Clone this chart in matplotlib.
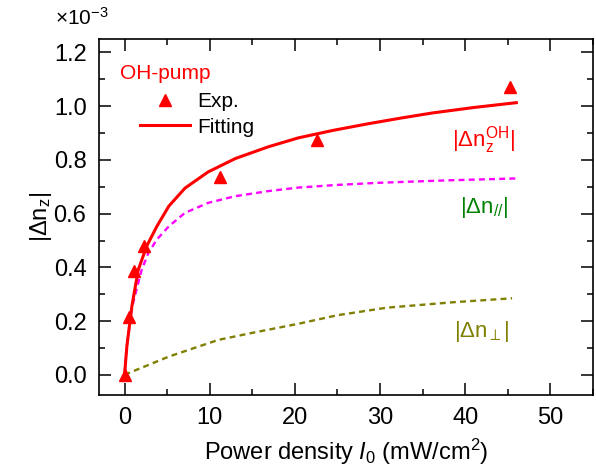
import matplotlib
matplotlib.use("Agg")
import matplotlib.pyplot as plt
from matplotlib.ticker import MultipleLocator, FormatStrFormatter

# data (y in units of 1e-3)
exp_x = [0, 0.55, 1.15, 2.3, 11.2, 22.6, 45.2]
exp_y = [0, 0.215, 0.385, 0.48, 0.735, 0.875, 1.07]

fit_x = [0, 0.27, 0.86, 1.6, 2.6, 3.8, 5.2, 7.1, 9.8, 13.0, 16.9, 20.4,
         24.5, 28.5, 32.5, 36.2, 41.0, 46.0]
fit_y = [0, 0.106, 0.255, 0.39, 0.479, 0.553, 0.628, 0.695, 0.755, 0.805, 0.849, 0.882,
         0.91, 0.934, 0.956, 0.975, 0.995, 1.013]

par_x = [0, 0.27, 0.86, 1.4, 2.0, 2.8, 3.8, 5.2, 7.1, 9.8, 13.0, 16.9, 20.4,
         25.0, 30.0, 38.0, 46.0]
par_y = [0, 0.106, 0.25, 0.317, 0.39, 0.454, 0.504, 0.553, 0.603, 0.64, 0.665, 0.684, 0.697,
         0.707, 0.715, 0.724, 0.731]

perp_x = [0, 0.5, 5.2, 11.0, 15.1, 20.4, 25.0, 30.8, 38.5, 45.5]
perp_y = [0, 0.007, 0.068, 0.13, 0.157, 0.19, 0.222, 0.25, 0.27, 0.285]

plt.rcParams['font.family'] = ['Liberation Sans', 'DejaVu Sans']
plt.rcParams['mathtext.fontset'] = 'custom'
plt.rcParams['mathtext.rm'] = 'Liberation Sans'
plt.rcParams['mathtext.it'] = 'Liberation Sans:italic'

fig = plt.figure(figsize=(5.96, 4.72), dpi=100)
ax = fig.add_axes([99/596, 1 - 395/472, (593 - 99)/596, (395 - 39)/472])

ax.plot(par_x, par_y, color='#ff00ff', linestyle=(0, (2.5, 1.8)), linewidth=1.7)
ax.plot(perp_x, perp_y, color='#808000', linestyle=(0, (2.5, 1.8)), linewidth=1.7)
l_fit, = ax.plot(fit_x, fit_y, color='red', linewidth=2.2, label='Fitting')
l_exp, = ax.plot(exp_x, exp_y, linestyle='none', marker='^', markersize=8,
                 color='red', label='Exp.')

ax.set_xlim(-3, 55)
ax.set_ylim(-0.075, 1.25)
ax.xaxis.set_major_locator(MultipleLocator(10))
ax.xaxis.set_minor_locator(MultipleLocator(5))
ax.yaxis.set_major_locator(MultipleLocator(0.2))
ax.yaxis.set_minor_locator(MultipleLocator(0.1))
ax.yaxis.set_major_formatter(FormatStrFormatter('%.1f'))
ax.tick_params(which='both', direction='in', top=True, right=True, width=1.1, labelsize=17)
ax.tick_params(which='major', length=8.5, pad=9)
ax.tick_params(which='minor', length=4.5)
for s in ax.spines.values():
    s.set_linewidth(1.2)

ax.set_xlabel(r'Power density $I_0$ (mW/cm$^2$)', fontsize=17, labelpad=5)
ax.set_ylabel(r'$|\Delta \mathrm{n}_\mathrm{z}|$', fontsize=17, labelpad=0)
fig.text(55/596, 1 - 18/472, r'$\times10^{-3}$', fontsize=15, va='center')

ax.text(0.043, 0.904, 'OH-pump', transform=ax.transAxes, color='red',
        fontsize=15, ha='left', va='center')
ax.legend(handles=[l_exp, l_fit], loc='upper left', bbox_to_anchor=(0.083, 0.85),
          frameon=False, fontsize=15, handlelength=2.4, handletextpad=0.35,
          labelspacing=0.3, borderpad=0, borderaxespad=0)

ax.text(0.842, 0.716, r'$|\Delta \mathrm{n}_\mathrm{z}^{\mathrm{OH}}|$', transform=ax.transAxes,
        color='red', fontsize=16, ha='right', va='center')
ax.text(0.828, 0.528, r'$|\Delta \mathrm{n}_{//}|$', transform=ax.transAxes,
        color='green', fontsize=16, ha='right', va='center')
ax.text(0.832, 0.177, r'$|\Delta \mathrm{n}_{\perp}|$', transform=ax.transAxes,
        color='#808000', fontsize=16, ha='right', va='center')

fig.savefig('out.png', dpi=100)
